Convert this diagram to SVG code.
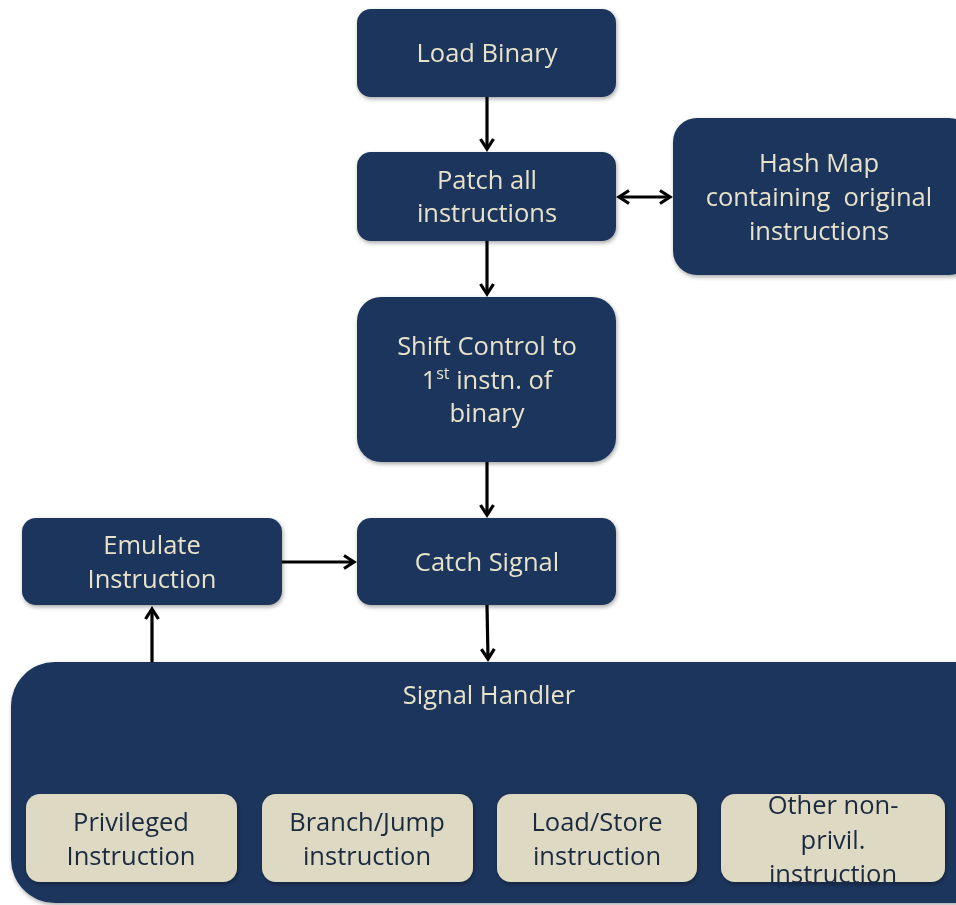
<svg xmlns="http://www.w3.org/2000/svg" width="956" height="905" viewBox="0 0 956 905">
<style>
.n{fill:#1b365d;}
.s{fill:#ddd9c3;}
.t{font-family:"Open Sans","Liberation Sans",sans-serif;font-size:25.5px;fill:#e8e2ca;text-anchor:middle;}
.d{font-family:"Open Sans","Liberation Sans",sans-serif;font-size:25.5px;fill:#1b2a40;text-anchor:middle;}
.c{stroke:#000;stroke-width:3.2;fill:none;}
</style>
<defs>
<filter id="sh" x="-10%" y="-10%" width="120%" height="130%">
<feDropShadow dx="1" dy="2" stdDeviation="2" flood-color="#000" flood-opacity="0.35"/>
</filter>
<marker id="a" viewBox="0 0 16 16" refX="13" refY="8" markerWidth="16" markerHeight="16" markerUnits="userSpaceOnUse" orient="auto-start-reverse">
<path d="M3,1.5 L13,8 L3,14.5" fill="none" stroke="#000" stroke-width="3.2"/>
</marker>
</defs>
<rect width="956" height="905" fill="#fff"/>
<g id="connectors">
<line class="c" x1="487" y1="97" x2="487" y2="149" marker-end="url(#a)"/>
<line class="c" x1="487" y1="241" x2="487" y2="294" marker-end="url(#a)"/>
<line class="c" x1="487" y1="462" x2="487" y2="515" marker-end="url(#a)"/>
<line class="c" x1="487" y1="605" x2="488" y2="659" marker-end="url(#a)"/>
<line class="c" x1="282" y1="562" x2="354" y2="562" marker-end="url(#a)"/>
<line class="c" x1="152" y1="662" x2="152" y2="609" marker-end="url(#a)"/>
<line class="c" x1="619" y1="197" x2="670" y2="197" marker-start="url(#a)" marker-end="url(#a)"/>
</g>
<g id="load-binary" filter="url(#sh)">
<rect class="n" x="357" y="9" width="259" height="88" rx="14"/>
<text class="t" x="487" y="62">Load Binary</text>
</g>
<g id="patch" filter="url(#sh)">
<rect class="n" x="357" y="152" width="259" height="89" rx="14"/>
<text class="t" x="487" y="189">Patch all</text>
<text class="t" x="487" y="222">instructions</text>
</g>
<g id="hash-map" filter="url(#sh)">
<rect class="n" x="673" y="118" width="300" height="157" rx="24"/>
<text class="t" x="819" y="172">Hash Map</text>
<text class="t" x="819" y="206" xml:space="preserve">containing  original</text>
<text class="t" x="819" y="240">instructions</text>
</g>
<g id="shift-control" filter="url(#sh)">
<rect class="n" x="357" y="297" width="259" height="165" rx="24"/>
<text class="t" x="487" y="355">Shift Control to</text>
<text class="t" x="487" y="389">1<tspan font-size="16" dy="-10">st</tspan><tspan dy="10"> instn. of</tspan></text>
<text class="t" x="487" y="422">binary</text>
</g>
<g id="catch-signal" filter="url(#sh)">
<rect class="n" x="357" y="518" width="259" height="87" rx="14"/>
<text class="t" x="487" y="571">Catch Signal</text>
</g>
<g id="emulate" filter="url(#sh)">
<rect class="n" x="22" y="518" width="260" height="87" rx="14"/>
<text class="t" x="152" y="554">Emulate</text>
<text class="t" x="152" y="588">Instruction</text>
</g>
<g id="signal-handler" filter="url(#sh)">
<rect class="n" x="11" y="662" width="990" height="241" rx="44"/>
<text class="t" x="489" y="704">Signal Handler</text>
</g>
<g id="privileged" filter="url(#sh)">
<rect class="s" x="26" y="794" width="211" height="88" rx="14"/>
<text class="d" x="131" y="831">Privileged</text>
<text class="d" x="131" y="865">Instruction</text>
</g>
<g id="branch-jump" filter="url(#sh)">
<rect class="s" x="262" y="794" width="211" height="88" rx="14"/>
<text class="d" x="367" y="831">Branch/Jump</text>
<text class="d" x="367" y="865">instruction</text>
</g>
<g id="load-store" filter="url(#sh)">
<rect class="s" x="497" y="794" width="200" height="88" rx="14"/>
<text class="d" x="597" y="831">Load/Store</text>
<text class="d" x="597" y="865">instruction</text>
</g>
<g id="other" filter="url(#sh)">
<rect class="s" x="721" y="794" width="224" height="88" rx="14"/>
<text class="d" x="833" y="814">Other non-</text>
<text class="d" x="833" y="849">privil.</text>
<text class="d" x="833" y="883">instruction</text>
</g>
</svg>
